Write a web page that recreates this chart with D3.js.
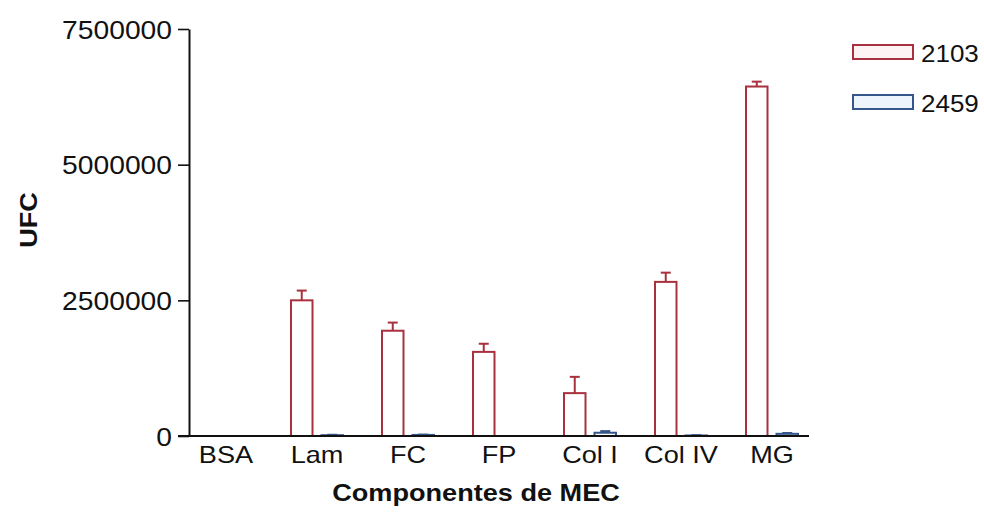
<!DOCTYPE html>
<html>
<head>
<meta charset="utf-8">
<script src="https://cdn.jsdelivr.net/npm/d3@7/dist/d3.min.js"></script>
<style>
  html, body { margin: 0; padding: 0; background: #fff; }
  svg { display: block; font-family: "Liberation Sans", Arial, Helvetica, sans-serif; }
</style>
</head>
<body>
<svg id="chart" width="984" height="519"></svg>
<script>
const categories = ["BSA", "Lam", "FC", "FP", "Col I", "Col IV", "MG"];
const seriesNames = ["2103", "2459"];
const values2103 = [0, 2500000, 1940000, 1550000, 790000, 2840000, 6440000];
const errors2103 = [0, 180000, 150000, 150000, 300000, 170000, 90000];
const values2459 = [0, 15000, 20000, 0, 60000, 10000, 40000];
const errors2459 = [0, 8000, 6000, 0, 30000, 6000, 15000];
const yTicks = [0, 2500000, 5000000, 7500000];
const xTitle = "Componentes de MEC";
const yTitle = "UFC";

const strokeColors = { "2103": "#a8303f", "2459": "#34568a" };
const fillColors = { "2103": "#ffffff", "2459": "#ffffff" };
const legendFill = { "2103": "#fdf2f4", "2459": "#eef4fb" };
const SX = 1.13; // horizontal glyph stretch of the original

const svg = d3.select("#chart");

const axisX = 189, baseY = 436, topY = 29;
const y = d3.scaleLinear().domain([0, 7500000]).range([baseY, topY]);
const x = d3.scaleBand().domain(categories).range([180.5, 817.5]).padding(0);
const xs = d3.scaleBand().domain(seriesNames).range([19.5, 71.5]).paddingInner(0.295).paddingOuter(0);

const data = [];
categories.forEach((c, i) => {
  data.push({ cat: c, s: "2103", v: values2103[i], e: errors2103[i] });
  data.push({ cat: c, s: "2459", v: values2459[i], e: errors2459[i] });
});

const bars = svg.append("g");
// error bars
const eb = bars.selectAll("g.err").data(data.filter(d => d.e > 0)).join("g").attr("class", "err")
  .attr("stroke", d => strokeColors[d.s]).attr("stroke-width", 2);
eb.append("line")
  .attr("x1", d => x(d.cat) + xs(d.s) + xs.bandwidth() / 2)
  .attr("x2", d => x(d.cat) + xs(d.s) + xs.bandwidth() / 2)
  .attr("y1", d => y(d.v)).attr("y2", d => y(d.v + d.e));
eb.append("line")
  .attr("x1", d => x(d.cat) + xs(d.s) + xs.bandwidth() / 2 - 5)
  .attr("x2", d => x(d.cat) + xs(d.s) + xs.bandwidth() / 2 + 5)
  .attr("y1", d => y(d.v + d.e)).attr("y2", d => y(d.v + d.e));

bars.selectAll("rect").data(data.filter(d => d.v > 0)).join("rect")
  .attr("x", d => x(d.cat) + xs(d.s))
  .attr("width", xs.bandwidth())
  .attr("y", d => y(d.v))
  .attr("height", d => baseY - y(d.v))
  .attr("fill", d => fillColors[d.s])
  .attr("stroke", d => strokeColors[d.s])
  .attr("stroke-width", 2);

// Y axis
const yAxis = svg.append("g").attr("transform", `translate(${axisX},0)`)
  .call(d3.axisLeft(y).tickValues(yTicks).tickFormat(d3.format("d")).tickSize(11).tickPadding(0).tickSizeOuter(0));
yAxis.select(".domain").attr("stroke", "#111").attr("stroke-width", 2);
yAxis.selectAll(".tick line").attr("stroke", "#111").attr("stroke-width", 1.6);
yAxis.selectAll(".tick text")
  .attr("font-size", 25).attr("fill", "#111")
  .attr("font-family", "Liberation Sans, Arial, sans-serif")
  .attr("x", -17 / SX).attr("dy", "0.36em")
  .attr("transform", `scale(${SX},1)`);

// X axis
const xAxis = svg.append("g").attr("transform", `translate(0,${baseY})`)
  .call(d3.axisBottom(x).tickSize(0).tickPadding(10).tickSizeOuter(0));
xAxis.select(".domain").attr("d", `M178,0H809`).attr("stroke", "#111").attr("stroke-width", 2);
xAxis.selectAll(".tick text")
  .attr("font-size", 24).attr("fill", "#111")
  .attr("font-family", "Liberation Sans, Arial, sans-serif")
  .each(function () {
    const t = d3.select(this.parentNode).attr("transform");
    const m = /translate\(([-\d.]+),/.exec(t);
    const cx = +m[1];
    d3.select(this.parentNode).attr("transform", `translate(0,0)`);
    d3.select(this).attr("x", cx / SX).attr("transform", `scale(${SX},1)`);
  });

// Titles
svg.append("text")
  .attr("x", 476 / SX).attr("y", 501)
  .attr("transform", `scale(${SX},1)`)
  .attr("text-anchor", "middle").attr("font-weight", "bold").attr("font-size", 24).attr("fill", "#111")
  .text(xTitle);

svg.append("text")
  .attr("transform", `translate(37,220) rotate(-90) scale(${SX},1)`)
  .attr("text-anchor", "middle").attr("font-weight", "bold").attr("font-size", 24).attr("fill", "#111")
  .text(yTitle);

// Legend
const lg = svg.append("g");
const ly = d3.scalePoint().domain(seriesNames).range([45, 95]);
lg.selectAll("rect").data(seriesNames).join("rect")
  .attr("x", 853).attr("y", d => ly(d)).attr("width", 60).attr("height", 14)
  .attr("fill", d => legendFill[d]).attr("stroke", d => strokeColors[d]).attr("stroke-width", 2);
lg.selectAll("text").data(seriesNames).join("text")
  .attr("x", 921 / SX).attr("y", d => ly(d) + 17)
  .attr("transform", `scale(${SX},1)`)
  .attr("font-size", 23).attr("fill", "#111")
  .text(d => d);
</script>
</body>
</html>
